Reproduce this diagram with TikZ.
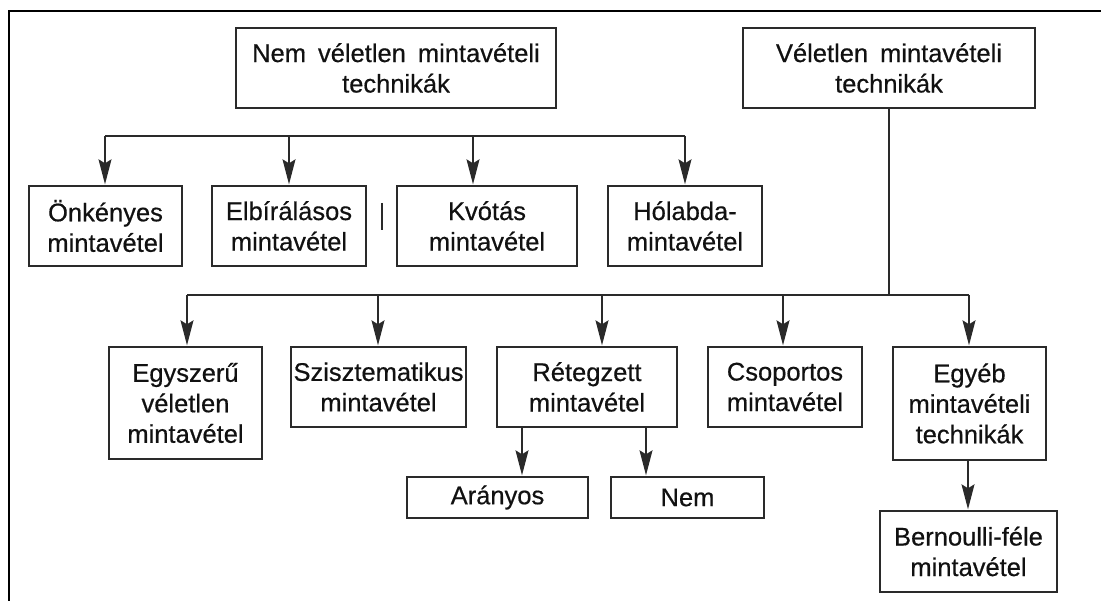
\documentclass[tikz,border=0pt]{standalone}
\usepackage{fontspec}
\setmainfont{Liberation Sans}[FakeBold=0.5]
\usetikzlibrary{arrows.meta}
\definecolor{ln}{HTML}{2A2A2A}
\definecolor{tx}{HTML}{111111}
\newcommand\bxfont{\fontsize{25.5}{30.5}\selectfont\spaceskip 12pt plus 2pt\relax}
\tikzset{
  box/.style={draw=ln, line width=1.4pt, inner sep=0pt, align=center, text=tx,
    font=\bxfont},
  conn/.style={draw=ln, line width=1.3pt},
  arr/.style={conn, -{Stealth[length=25pt,width=13pt,inset=4pt]}, shorten >=1pt},
}
\begin{document}
\begin{tikzpicture}[x=1pt,y=-1pt]
\useasboundingbox (0,0) rectangle (1101,601);
% frame
\coordinate (fa) at (9,601);
\coordinate (fb) at (9,11);
\coordinate (fc) at (1101,11);
\draw[line width=2.4pt, black] (fa) -- (fb) -- (fc);

% top boxes
\node[box, minimum width=320pt, minimum height=80pt] (nvt) at (396,68) {Nem véletlen mintavételi\\technikák};
\node[box, minimum width=292pt, minimum height=80pt] (vt) at (889,68) {Véletlen mintavételi\\technikák};

% non-random row
\node[box, minimum width=153pt, minimum height=80pt] (onk) at (105.5,226) {Önkényes\\mintavétel};
\node[box, minimum width=154pt, minimum height=80pt] (elb) at (289,226) {Elbírálásos\\mintavétel};
\node[box, minimum width=180pt, minimum height=80pt] (kvo) at (487,226) {Kvótás\\mintavétel};
\node[box, minimum width=154pt, minimum height=80pt] (hol) at (685,226) {Hólabda-\\mintavétel};

% stray mark
\coordinate (m1) at (382,203);
\coordinate (m2) at (382,230);
\draw[conn] (m1) -- (m2);

% non-random connectors
\coordinate (n1) at (105,136);
\coordinate (n2) at (289,136);
\coordinate (n3) at (473,136);
\coordinate (n4) at (685,136);
\draw[conn] (n1) -- (n4);
\draw[arr] (n1) -- (n1 |- onk.north);
\draw[arr] (n2) -- (n2 |- elb.north);
\draw[arr] (n3) -- (n3 |- kvo.north);
\draw[arr] (n4) -- (n4 |- hol.north);

% random row
\node[box, minimum width=153pt, minimum height=112pt] (egy) at (185.5,403) {Egyszerű\\véletlen\\mintavétel};
\node[box, minimum width=175pt, minimum height=80pt] (szi) at (378.5,387) {Szisztematikus\\mintavétel};
\node[box, minimum width=180pt, minimum height=80pt] (ret) at (587,387) {Rétegzett\\mintavétel};
\node[box, minimum width=154pt, minimum height=80pt] (cso) at (785,387) {Csoportos\\mintavétel};
\node[box, minimum width=153pt, minimum height=113pt] (egyeb) at (969.5,403.5) {Egyéb\\mintavételi\\technikák};

\coordinate (r0) at (889,295);
\coordinate (r1) at (187,295);
\coordinate (r2) at (378,295);
\coordinate (r3) at (602,295);
\coordinate (r4) at (783,295);
\coordinate (r5) at (969,295);
\draw[conn] (vt.south) -- (r0);
\draw[conn] (r1) -- (r5);
\draw[arr] (r1) -- (r1 |- egy.north);
\draw[arr] (r2) -- (r2 |- szi.north);
\draw[arr] (r3) -- (r3 |- ret.north);
\draw[arr] (r4) -- (r4 |- cso.north);
\draw[arr] (r5) -- (r5 |- egyeb.north);

% bottom
\node[box, minimum width=181pt, minimum height=41pt] (ara) at (497.5,497.5) {Arányos};
\node[box, minimum width=153pt, minimum height=41pt] (nem) at (687.5,497.5) {Nem};
\node[box, minimum width=177pt, minimum height=81pt] (ber) at (968.5,551.5) {Bernoulli-féle\\mintavétel};

\coordinate (s1) at (522,427);
\coordinate (s2) at (646,427);
\coordinate (s3) at (968,460);
\draw[arr] (s1 |- ret.south) -- (s1 |- ara.north);
\draw[arr] (s2 |- ret.south) -- (s2 |- nem.north);
\draw[arr] (s3 |- egyeb.south) -- (s3 |- ber.north);
\end{tikzpicture}
\end{document}
